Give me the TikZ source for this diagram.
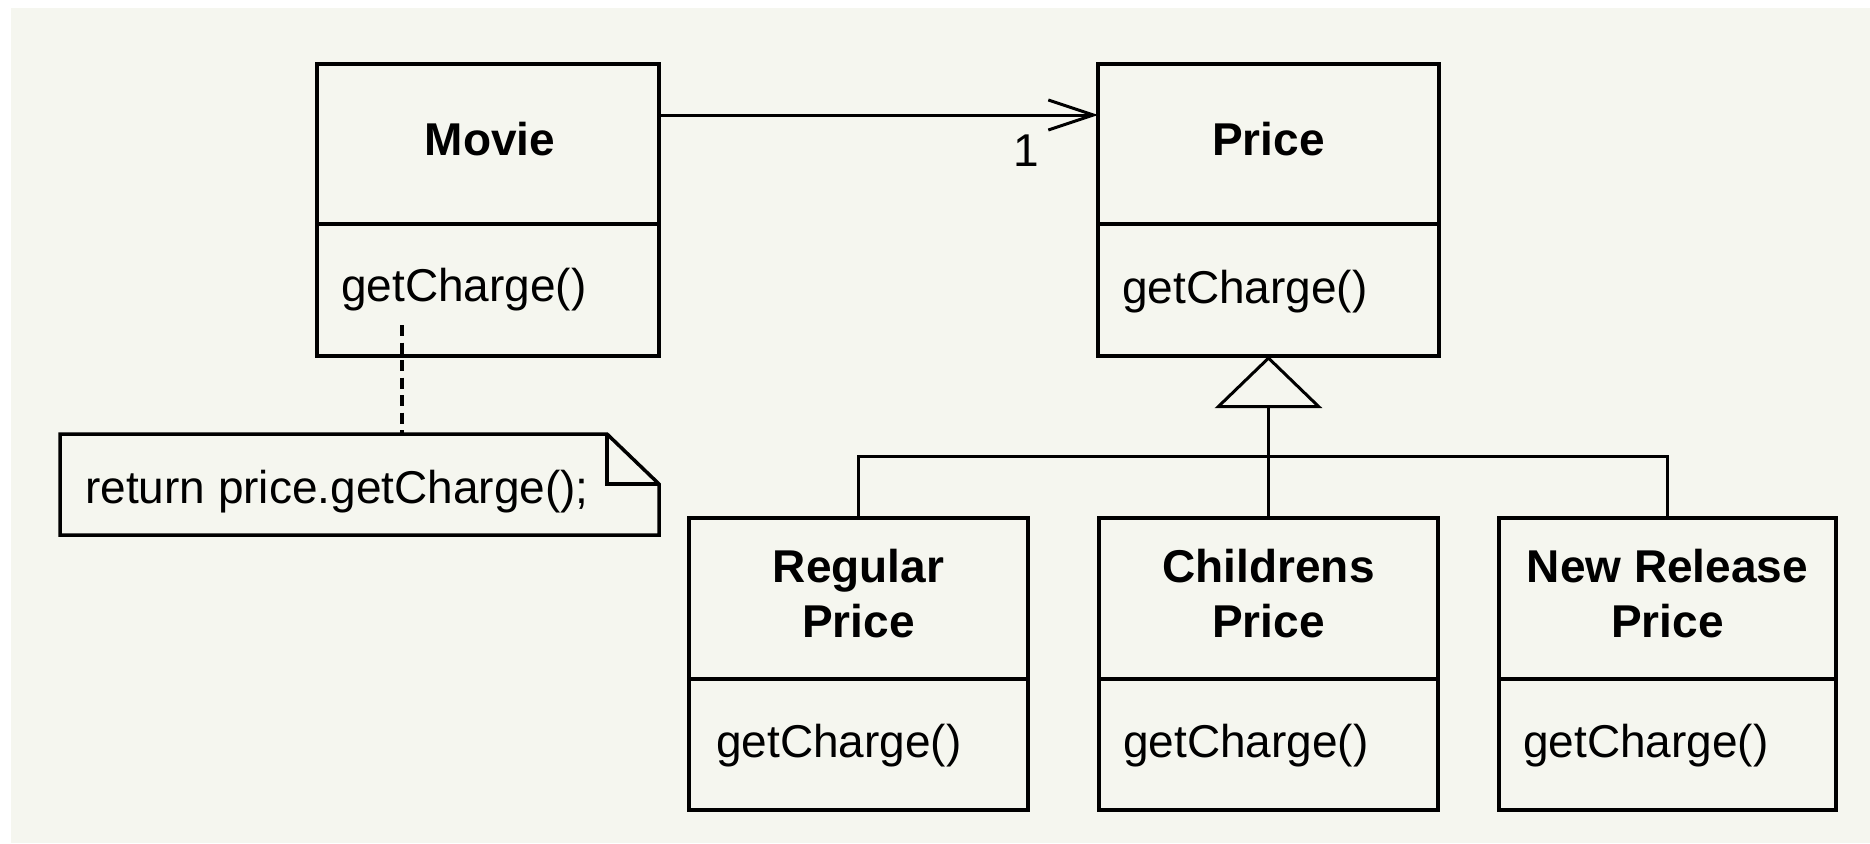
\documentclass[tikz,border=0pt]{standalone}
\usepackage{fontspec}
\setmainfont{Liberation Sans}
\usetikzlibrary{arrows.meta}
\definecolor{bg}{RGB}{245,246,239}
\begin{document}
\begin{tikzpicture}[x=1pt,y=-1pt,
  classbox/.style={draw=black,line width=3.5pt,minimum width=#1,minimum height=292pt,inner sep=0pt,outer sep=0pt},
  classbox/.default=340pt,
  boxline/.style={draw=black,line width=3.5pt},
  conn/.style={draw=black,line width=3pt},
  notelink/.style={draw=black,line width=3.5pt,dash pattern=on 11pt off 6.5pt},
  title/.style={font=\fontsize{46}{55}\selectfont\bfseries,anchor=base,inner sep=0pt,align=center},
  method/.style={font=\fontsize{46}{55}\selectfont,anchor=base west,inner sep=0pt},
  lab/.style={font=\fontsize{46}{55}\selectfont,inner sep=0pt}
]
\useasboundingbox (0,0) rectangle (1870,843);
\fill[white] (0,0) rectangle (1870,843);
\fill[bg] (11,8) rectangle (1870,843);

% class boxes
\node[classbox=342pt] (movie) at (488,210) {};
\node[classbox=341pt] (price) at (1268.5,210) {};
\node[classbox=339pt] (reg) at (858.5,664) {};
\node[classbox=339pt] (chp) at (1268.5,664) {};
\node[classbox=337pt] (nrp) at (1667.5,664) {};

% compartment dividers
\coordinate (d1) at (0,224);
\coordinate (d2) at (0,679);
\draw[boxline] (movie.west |- d1) -- (movie.east |- d1);
\draw[boxline] (price.west |- d1) -- (price.east |- d1);
\draw[boxline] (reg.west |- d2) -- (reg.east |- d2);
\draw[boxline] (chp.west |- d2) -- (chp.east |- d2);
\draw[boxline] (nrp.west |- d2) -- (nrp.east |- d2);

% titles (base anchor = baseline of last line)
\node[title] (movieT) at (490,155) {Movie};
\node[title] (priceT) at (1268.5,155) {Price};
\node[title] (regT) at (858.5,637) {Regular\\Price};
\node[title] (chpT) at (1268.5,637) {Childrens\\Price};
\node[title] (nrpT) at (1667.5,637) {New Release\\Price};

% operations
\node[method] (movieM) at (341,301) {getCharge()};
\node[method] (priceM) at (1122,303) {getCharge()};
\node[method] (regM) at (716,757) {getCharge()};
\node[method] (chpM) at (1123,757) {getCharge()};
\node[method] (nrpM) at (1523,757) {getCharge()};

% note
\node[inner sep=0pt,outer sep=0pt,minimum width=599pt,minimum height=101pt] (note) at (359.5,484.5) {};
\draw[boxline,line join=miter] (note.north west) -- ([xshift=-52pt]note.north east) -- ([yshift=-50pt]note.north east) -- (note.south east) -- (note.south west) -- cycle;
\draw[boxline] ([xshift=-52pt]note.north east) |- ([yshift=-50pt]note.north east);
\node[method] (noteT) at (85,503) {return price.getCharge();};

% note link
\coordinate (dtop) at (402,325);
\draw[notelink] (dtop) -- (dtop |- note.north);

% association
\coordinate (ay) at (0,115);
\draw[conn,-{Straight Barb[length=45pt,width=30pt]}] (movie.east |- ay) -- node[lab,pos=0.837,anchor=base,yshift=-51pt] (one) {1} (price.west |- ay);

% generalization
\coordinate (bar) at (0,456);
\draw[conn] (reg.north) |- (bar -| nrp.north) -- (nrp.north);
\draw[conn,-{Triangle[open,length=52pt,width=107pt]}] (chp.north) -- (price.south);
\end{tikzpicture}
\end{document}
